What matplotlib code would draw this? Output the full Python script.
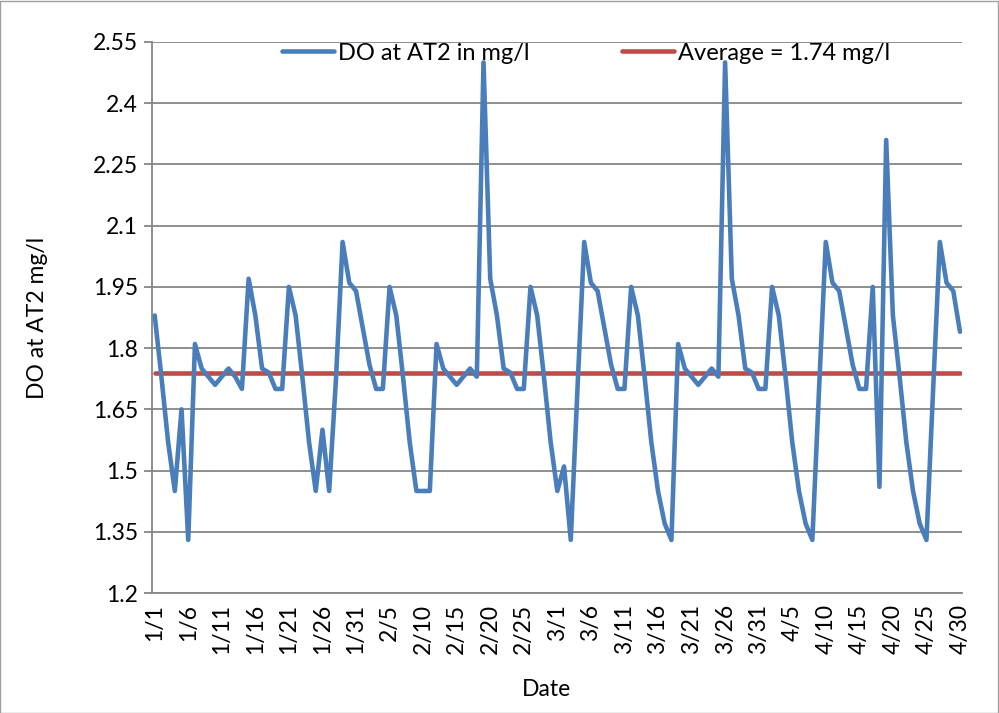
import matplotlib
matplotlib.use("Agg")
import matplotlib.pyplot as plt
import pandas as pd
from matplotlib.patches import Rectangle

plt.rcParams['font.family'] = ['Lato', 'DejaVu Sans']

dates = pd.date_range('2012-01-01', '2012-04-30', freq='D')
date_labels = [f"{d.month}/{d.day}" for d in dates]

do_values = [
    1.88, 1.73, 1.57, 1.45, 1.65, 1.33, 1.81, 1.75, 1.73, 1.71,
    1.73, 1.75, 1.73, 1.70, 1.97, 1.88, 1.75, 1.74, 1.70, 1.70,
    1.95, 1.88, 1.73, 1.57, 1.45, 1.60, 1.45, 1.72, 2.06, 1.96,
    1.94, 1.85, 1.76, 1.70, 1.70, 1.95, 1.88, 1.73, 1.57, 1.45,
    1.45, 1.45, 1.81, 1.75, 1.73, 1.71, 1.73, 1.75, 1.73, 2.50,
    1.97, 1.88, 1.75, 1.74, 1.70, 1.70, 1.95, 1.88, 1.73, 1.57,
    1.45, 1.51, 1.33, 1.70, 2.06, 1.96, 1.94, 1.85, 1.76, 1.70,
    1.70, 1.95, 1.88, 1.73, 1.57, 1.45, 1.37, 1.33, 1.81, 1.75,
    1.73, 1.71, 1.73, 1.75, 1.73, 2.50, 1.97, 1.88, 1.75, 1.74,
    1.70, 1.70, 1.95, 1.88, 1.73, 1.57, 1.45, 1.37, 1.33, 1.70,
    2.06, 1.96, 1.94, 1.85, 1.76, 1.70, 1.70, 1.95, 1.46, 2.31,
    1.88, 1.73, 1.57, 1.45, 1.37, 1.33, 1.70, 2.06, 1.96, 1.94,
    1.84,
]
average_value = 1.74
avg_values = [average_value] * len(do_values)

y_ticks = [1.2, 1.35, 1.5, 1.65, 1.8, 1.95, 2.1, 2.25, 2.4, 2.55]
y_tick_labels = ["1.2", "1.35", "1.5", "1.65", "1.8", "1.95", "2.1", "2.25", "2.4", "2.55"]

series_name = "DO at AT2 in mg/l"
avg_name = "Average = 1.74 mg/l"

BLUE = "#4A7EBB"
RED = "#BE4B48"
GRID = "#868686"
FS = 16.5

fig = plt.figure(figsize=(9.99, 7.13), dpi=100)
fig.patch.set_facecolor("white")
ax = fig.add_axes([152/999, 1 - 593/713, (962-152)/999, (593-42)/713])

x = list(range(len(do_values)))
l1, = ax.plot(x, do_values, color=BLUE, lw=3.3, solid_joinstyle='round', solid_capstyle='round', zorder=3)
l2, = ax.plot(x, avg_values, color=RED, lw=3.3, solid_capstyle='round', zorder=2)

ax.set_xlim(-0.4, 120.3)
ax.set_ylim(1.2, 2.55)
ax.set_yticks(y_ticks)
ax.set_yticklabels(y_tick_labels)
tick_idx = list(range(0, len(date_labels), 5))
ax.set_xticks(tick_idx)
ax.set_xticklabels([date_labels[i] for i in tick_idx], rotation=90)

ax.grid(axis='y', color=GRID, lw=1.3)
ax.set_axisbelow(True)
for s in ['top', 'right']:
    ax.spines[s].set_visible(False)
for s in ['left', 'bottom']:
    ax.spines[s].set_color(GRID)
    ax.spines[s].set_linewidth(1.3)
ax.tick_params(axis='y', length=6, width=1.3, color=GRID, labelsize=FS, pad=4)
ax.tick_params(axis='x', length=0, labelsize=FS, pad=8)

fig.text(38/999, 1 - 318/713, "DO at AT2 mg/l", rotation=90, ha='center', va='center', fontsize=FS)
fig.text(547/999, 1 - 690/713, "Date", ha='center', va='center', fontsize=FS)

fig.legend([l1, l2], [series_name, avg_name], loc='center', ncol=2,
           bbox_to_anchor=(586/999, 1 - 53/713), frameon=False, fontsize=17,
           handlelength=2.2, handletextpad=0.17, columnspacing=3.9)

fig.add_artist(Rectangle((0.0005, 0.0007), 0.998, 0.998, transform=fig.transFigure,
                         fill=False, edgecolor="#A0A0A0", lw=1.0))

fig.savefig("out.png", dpi=100, facecolor="white")
